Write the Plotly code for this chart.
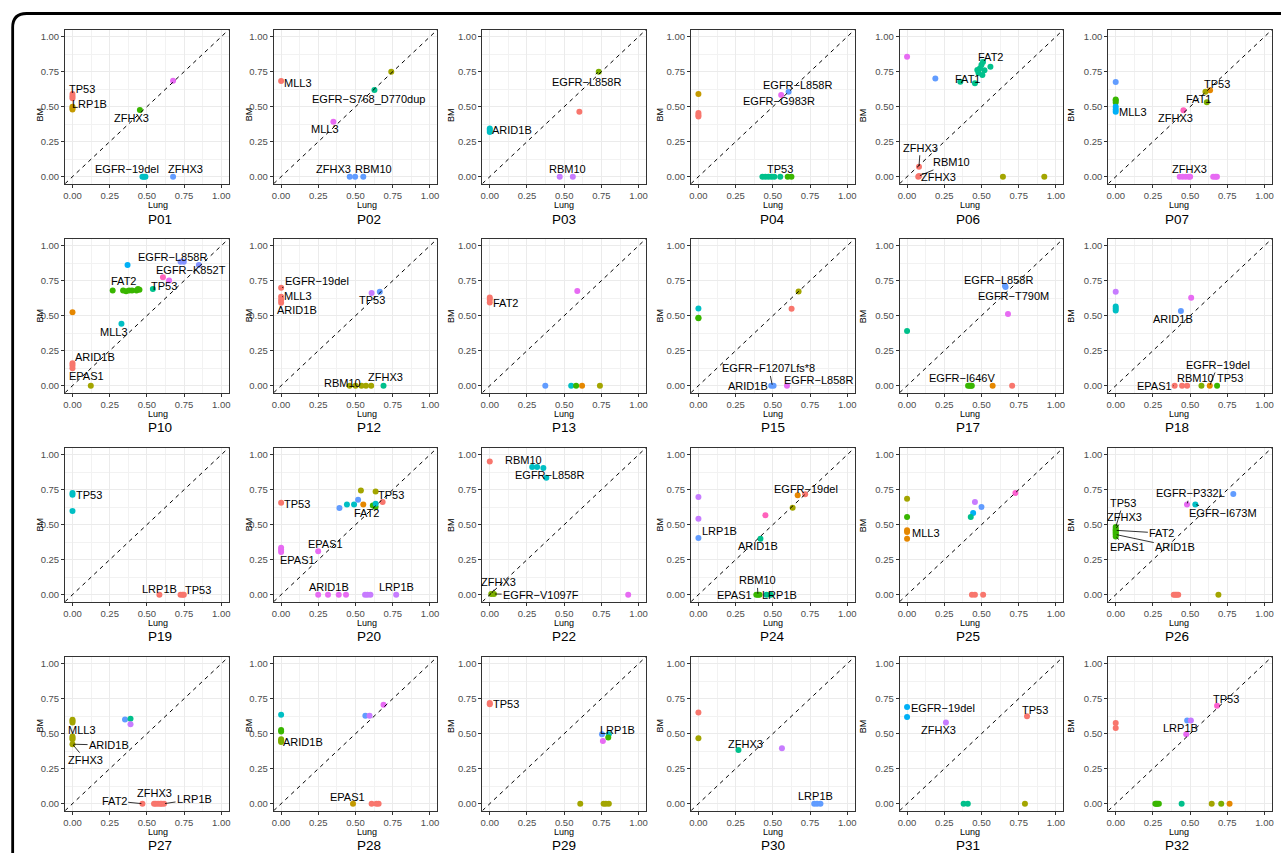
import plotly.graph_objects as go

W, H = 1281, 853
FONT = "Liberation Sans, Arial, Helvetica, sans-serif"

PALETTE = {
    "R": "#F8766D", "O": "#E58700", "G": "#C49A00", "L": "#A3A500",
    "Y": "#7CAE00", "N": "#39B600", "E": "#00BA38", "M": "#00C08B",
    "T": "#00BFC4", "S": "#00B0F6", "B": "#619CFF", "V": "#8494FF",
    "P": "#C77CFF", "K": "#E76BF3", "I": "#FF62BC", "D": "#FD61D1",
}

PANELS = ["P01", "P02", "P03", "P04", "P06", "P07",
          "P10", "P12", "P13", "P15", "P17", "P18",
          "P19", "P20", "P22", "P24", "P25", "P26",
          "P27", "P28", "P29", "P30", "P31", "P32"]

TICK_VALS = [0, 0.25, 0.5, 0.75, 1.0]
TICK_TEXT = ["0.00", "0.25", "0.50", "0.75", "1.00"]
X_TITLE = "Lung"
Y_TITLE = "BM"

# ---- data: Lung VAF, BM VAF, colour code, labels (text, point x, point y, label x, label y, segment)
P01_lung = [0, 0, 0, 0, 0, 0, 0.453, 0.676, 0.47, 0.48, 0.49, 0.676]
P01_bm = [0.59, 0.575, 0.56, 0.50, 0.49, 0.48, 0.476, 0.686, 0, 0, 0, 0]
P01_col = "RRRGGGNKTTTB"
P01_lab = [("TP53", 0, 0.575, 0.067, 0.63, False), ("LRP1B", 0, 0.50, 0.112, 0.519, False),
           ("ZFHX3", 0.453, 0.476, 0.397, 0.417, False), ("EGFR−19del", 0.48, 0, 0.364, 0.052, False),
           ("ZFHX3", 0.676, 0, 0.761, 0.052, False)]

P02_lung = [0, 0.74, 0.627, 0.351, 0.461, 0.497, 0.552]
P02_bm = [0.683, 0.75, 0.619, 0.393, 0, 0, 0]
P02_col = "RLMKBBB"
P02_lab = [("MLL3", 0, 0.683, 0.116, 0.667, False), ("EGFR−S768_D770dup", 0.627, 0.619, 0.586, 0.555, False),
           ("MLL3", 0.351, 0.393, 0.296, 0.338, False), ("ZFHX3", 0.461, 0, 0.35, 0.052, False),
           ("RBM10", 0.552, 0, 0.62, 0.052, False)]

P03_lung = [0, 0, 0, 0.732, 0.602, 0.47, 0.558]
P03_bm = [0.345, 0.333, 0.32, 0.75, 0.464, 0, 0]
P03_col = "TTTYRPP"
P03_lab = [("ARID1B", 0, 0.333, 0.152, 0.333, False), ("EGFR−L858R", 0.732, 0.75, 0.65, 0.679, True),
           ("RBM10", 0.51, 0, 0.52, 0.052, False)]

P04_lung = [0, 0, 0, 0, 0.556, 0.606, 0.43, 0.45, 0.47, 0.49, 0.51, 0.55, 0.6, 0.625]
P04_bm = [0.59, 0.455, 0.44, 0.43, 0.583, 0.607, 0, 0, 0, 0, 0, 0, 0, 0]
P04_col = "GRRRKBMMMMMMNN"
P04_lab = [("EGFR−L858R", 0.606, 0.607, 0.667, 0.655, True), ("EGFR−G983R", 0.556, 0.583, 0.544, 0.543, True),
           ("TP53", 0.49, 0, 0.55, 0.055, False)]

P06_lung = [0, 0.19, 0.358, 0.456, 0.472, 0.49, 0.5, 0.51, 0.52, 0.56, 0.48, 0.506, 0.08, 0.08, 0.075, 0.644, 0.922]
P06_bm = [0.857, 0.702, 0.679, 0.667, 0.762, 0.774, 0.8, 0.82, 0.76, 0.786, 0.74, 0.726, 0.071, 0.005, 0.0, 0, 0]
P06_col = "KBMMMMMMMMMMRRRLL"
P06_lab = [("FAT2", 0.51, 0.82, 0.561, 0.857, False), ("FAT1", 0.358, 0.679, 0.408, 0.695, False),
           ("ZFHX3", 0.08, 0.071, 0.089, 0.207, True), ("RBM10", 0.08, 0.005, 0.297, 0.102, True),
           ("ZFHX3", 0.075, 0.0, 0.214, 0.0, False)]

P07_lung = [0, 0, 0, 0, 0, 0, 0, 0.634, 0.603, 0.612, 0.455, 0.43, 0.45, 0.47, 0.49, 0.5, 0.655, 0.67, 0.68]
P07_bm = [0.676, 0.552, 0.545, 0.53, 0.5, 0.48, 0.464, 0.617, 0.607, 0.531, 0.474, 0, 0, 0, 0, 0, 0, 0, 0]
P07_col = "BNNNSSSOLYIKKKKKKKK"
P07_lab = [("MLL3", 0, 0.48, 0.114, 0.46, False), ("TP53", 0.603, 0.607, 0.681, 0.664, True),
           ("FAT1", 0.612, 0.531, 0.554, 0.555, False), ("ZFHX3", 0.455, 0.474, 0.404, 0.417, False),
           ("ZFHX3", 0.47, 0, 0.498, 0.052, False)]

P10_lung = [0.37, 0.726, 0.748, 0.849, 0.608, 0.649, 0.27, 0.34, 0.36, 0.38, 0.40, 0.43, 0.44, 0.45, 0.54, 0, 0.329, 0, 0, 0, 0.123]
P10_bm = [0.862, 0.886, 0.886, 0.862, 0.774, 0.752, 0.68, 0.68, 0.675, 0.68, 0.68, 0.68, 0.69, 0.685, 0.69, 0.524, 0.443, 0.16, 0.145, 0.125, 0]
P10_col = "SVVVIKNNNNNNNNMOTRRRL"
P10_lab = [("EGFR−L858R", 0.737, 0.886, 0.671, 0.921, True), ("EGFR−K852T", 0.849, 0.862, 0.795, 0.826, True),
           ("FAT2", 0.36, 0.675, 0.342, 0.745, False), ("TP53", 0.54, 0.69, 0.616, 0.712, False),
           ("MLL3", 0.329, 0.443, 0.279, 0.386, False), ("ARID1B", 0, 0.16, 0.151, 0.207, True),
           ("EPAS1", 0, 0.125, 0.096, 0.071, True)]

P12_lung = [0, 0, 0, 0, 0.608, 0.663, 0.46, 0.50, 0.54, 0.57, 0.605, 0.688]
P12_bm = [0.70, 0.636, 0.612, 0.593, 0.662, 0.671, 0, 0, 0, 0, 0, 0]
P12_col = "RRRRPBLLLLLM"
P12_lab = [("EGFR−19del", 0, 0.70, 0.24, 0.748, True), ("MLL3", 0, 0.636, 0.116, 0.64, True),
           ("ARID1B", 0, 0.593, 0.11, 0.538, False), ("TP53", 0.608, 0.662, 0.613, 0.612, False),
           ("RBM10", 0.5, 0, 0.41, 0.02, False), ("ZFHX3", 0.688, 0, 0.70, 0.062, False)]

P13_lung = [0, 0, 0, 0.588, 0.373, 0.547, 0.58, 0.62, 0.74]
P13_bm = [0.63, 0.615, 0.595, 0.676, 0, 0, 0, 0, 0]
P13_col = "RRRKBTNOL"
P13_lab = [("FAT2", 0, 0.61, 0.105, 0.588, False)]

P15_lung = [0, 0, 0, 0.673, 0.626, 0.489, 0.505, 0.595]
P15_bm = [0.552, 0.481, 0.486, 0.673, 0.55, 0, 0, 0]
P15_col = "TNNLRBBK"
P15_lab = [("EGFR−F1207Lfs*8", 0.497, 0, 0.473, 0.123, True), ("ARID1B", 0.489, 0, 0.331, 0.0, False),
           ("EGFR−L858R", 0.595, 0, 0.804, 0.04, False)]

P17_lung = [0, 0.41, 0.42, 0.43, 0.435, 0.575, 0.706, 0.658, 0.662, 0.678]
P17_bm = [0.39, 0, 0, 0, 0, 0, 0, 0.714, 0.705, 0.512]
P17_col = "MNNNNORBBK"
P17_lab = [("EGFR−I646V", 0.42, 0, 0.367, 0.052, False), ("EGFR−L858R", 0.658, 0.714, 0.611, 0.755, False),
           ("EGFR−T790M", 0.662, 0.705, 0.714, 0.64, False)]

P18_lung = [0, 0, 0, 0, 0.507, 0.438, 0.396, 0.446, 0.48, 0.576, 0.632, 0.681]
P18_bm = [0.671, 0.566, 0.552, 0.538, 0.629, 0.533, 0, 0, 0, 0, 0, 0]
P18_col = "PTTTKBRRRYON"
P18_lab = [("ARID1B", 0.438, 0.533, 0.388, 0.474, False), ("EGFR−19del", 0.632, 0, 0.687, 0.148, True),
           ("RBM10", 0.576, 0, 0.535, 0.052, False), ("TP53", 0.681, 0, 0.765, 0.052, False),
           ("EPAS1", 0.396, 0, 0.258, 0.0, True)]

P19_lung = [0, 0, 0, 0.584, 0.726, 0.74, 0.748]
P19_bm = [0.726, 0.714, 0.598, 0, 0, 0, 0]
P19_col = "TTTRRRR"
P19_lab = [("TP53", 0, 0.72, 0.11, 0.71, False), ("LRP1B", 0.584, 0, 0.584, 0.043, False),
           ("TP53", 0.74, 0, 0.844, 0.036, False)]

P20_lung = [0, 0, 0, 0, 0.249, 0.392, 0.442, 0.49, 0.517, 0.536, 0.552, 0.635, 0.616, 0.635, 0.635, 0.682,
            0.249, 0.315, 0.387, 0.436, 0.564, 0.58, 0.6, 0.773]
P20_bm = [0.657, 0.336, 0.321, 0.305, 0.31, 0.619, 0.645, 0.645, 0.679, 0.745, 0.645, 0.738, 0.638, 0.626, 0.65, 0.662,
          0, 0, 0, 0, 0, 0, 0, 0]
P20_col = "RKKKKBTTBLOLNNTRKKKKPPPP"
P20_lab = [("TP53", 0, 0.657, 0.11, 0.65, False), ("EPAS1", 0, 0.305, 0.11, 0.245, False),
           ("EPAS1", 0.249, 0.31, 0.301, 0.36, False), ("TP53", 0.682, 0.662, 0.738, 0.71, False),
           ("FAT2", 0.616, 0.638, 0.572, 0.583, True), ("ARID1B", 0.315, 0, 0.323, 0.055, False),
           ("LRP1B", 0.773, 0, 0.773, 0.055, False)]

P22_lung = [0, 0.285, 0.318, 0.36, 0.38, 0.01, 0.028, 0.93]
P22_bm = [0.952, 0.912, 0.912, 0.905, 0.836, 0.005, 0.005, 0]
P22_col = "RTTTTYYK"
P22_lab = [("RBM10", 0.3, 0.912, 0.227, 0.96, False), ("EGFR−L858R", 0.38, 0.836, 0.4, 0.852, False),
           ("ZFHX3", 0.01, 0.005, 0.06, 0.09, True), ("EGFR−V1097F", 0.028, 0.005, 0.345, 0.0, True)]

P24_lung = [0, 0, 0, 0.667, 0.717, 0.633, 0.45, 0.417, 0.389, 0.40, 0.41, 0.458, 0.486]
P24_bm = [0.698, 0.543, 0.405, 0.71, 0.717, 0.621, 0.567, 0.4, 0, 0, 0, 0, 0]
P24_col = "PPBORLIMNNNMM"
P24_lab = [("LRP1B", 0, 0.405, 0.139, 0.452, False), ("EGFR−19del", 0.717, 0.717, 0.722, 0.757, False),
           ("ARID1B", 0.417, 0.4, 0.403, 0.345, False), ("RBM10", 0.4, 0, 0.394, 0.102, True),
           ("EPAS1", 0.389, 0, 0.244, 0.0, False), ("LRP1B", 0.458, 0, 0.547, 0.0, False)]

P25_lung = [0, 0, 0, 0, 0, 0.456, 0.444, 0.428, 0.5, 0.728, 0.436, 0.456, 0.511]
P25_bm = [0.686, 0.555, 0.46, 0.448, 0.4, 0.662, 0.583, 0.555, 0.626, 0.726, 0, 0, 0]
P25_col = "LNOOOPSMBDRRR"
P25_lab = [("MLL3", 0, 0.448, 0.13, 0.44, False)]

P26_lung = [0, 0, 0, 0, 0, 0, 0, 0.479, 0.535, 0.79, 0.39, 0.40, 0.41, 0.42, 0.69]
P26_bm = [0.483, 0.47, 0.46, 0.45, 0.44, 0.43, 0.415, 0.645, 0.645, 0.72, 0, 0, 0, 0, 0]
P26_col = "NNNNNNNKTBRRRRL"
P26_lab = [("EGFR−P332L", 0.479, 0.645, 0.5, 0.725, True), ("EGFR−I673M", 0.535, 0.645, 0.72, 0.583, True),
           ("TP53", 0, 0.483, 0.05, 0.655, True), ("ZFHX3", 0, 0.47, 0.058, 0.555, True),
           ("FAT2", 0, 0.46, 0.31, 0.44, True), ("EPAS1", 0, 0.415, 0.078, 0.34, True),
           ("ARID1B", 0, 0.43, 0.40, 0.34, True)]

P27_lung = [0, 0, 0, 0, 0, 0, 0, 0.353, 0.39, 0.39, 0.47, 0.548, 0.56, 0.575, 0.59, 0.6, 0.615]
P27_bm = [0.60, 0.59, 0.58, 0.48, 0.47, 0.46, 0.425, 0.601, 0.606, 0.568, 0, 0, 0, 0, 0, 0, 0]
P27_col = "LLLLLLLBMPRRRRRRR"
P27_lab = [("MLL3", 0, 0.48, 0.067, 0.53, False), ("ARID1B", 0, 0.425, 0.246, 0.418, True),
           ("ZFHX3", 0, 0.425, 0.09, 0.311, True), ("FAT2", 0.47, 0, 0.28, 0.02, True),
           ("ZFHX3", 0.56, 0, 0.548, 0.074, False), ("LRP1B", 0.615, 0, 0.82, 0.033, True)]

P28_lung = [0, 0, 0, 0, 0, 0, 0.566, 0.594, 0.688, 0.483, 0.608, 0.64, 0.655]
P28_bm = [0.635, 0.527, 0.515, 0.46, 0.45, 0.44, 0.628, 0.628, 0.707, 0, 0, 0, 0]
P28_col = "TNNYYYBPKGRRR"
P28_lab = [("ARID1B", 0, 0.45, 0.144, 0.439, False), ("EPAS1", 0.483, 0, 0.447, 0.048, False)]

P29_lung = [0, 0, 0.754, 0.8, 0.796, 0.76, 0.608, 0.765, 0.78, 0.8]
P29_bm = [0.72, 0.71, 0.496, 0.496, 0.472, 0.448, 0, 0, 0, 0]
P29_col = "RRBTNKLLLL"
P29_lab = [("TP53", 0, 0.715, 0.11, 0.712, False), ("LRP1B", 0.754, 0.496, 0.856, 0.527, False)]

P30_lung = [0, 0, 0.269, 0.561, 0.778, 0.797, 0.82]
P30_bm = [0.652, 0.468, 0.384, 0.396, 0, 0, 0]
P30_col = "RLMPBBB"
P30_lab = [("ZFHX3", 0.269, 0.384, 0.319, 0.424, False), ("LRP1B", 0.797, 0, 0.786, 0.053, False)]

P31_lung = [0, 0, 0.261, 0.806, 0.38, 0.408, 0.792]
P31_bm = [0.69, 0.619, 0.58, 0.624, 0, 0, 0]
P31_col = "SSPRMML"
P31_lab = [("EGFR−19del", 0, 0.69, 0.242, 0.683, False), ("ZFHX3", 0.261, 0.58, 0.208, 0.523, False),
           ("TP53", 0.806, 0.624, 0.858, 0.671, False)]

P32_lung = [0, 0, 0.48, 0.505, 0.474, 0.681, 0.266, 0.273, 0.28, 0.29, 0.443, 0.645, 0.709, 0.765]
P32_bm = [0.576, 0.54, 0.595, 0.595, 0.496, 0.7, 0, 0, 0, 0, 0, 0, 0, 0]
P32_col = "RRBPKDNNNNMLYO"
P32_lab = [("TP53", 0.681, 0.7, 0.742, 0.748, False), ("LRP1B", 0.474, 0.496, 0.432, 0.54, False)]

DATA = {name: (globals()[name + "_lung"], globals()[name + "_bm"],
               globals()[name + "_col"], globals()[name + "_lab"]) for name in PANELS}

# ---- layout geometry (pixels)
COL_PITCH, ROW_PITCH = 209.3, 209.0
X_ZERO, X_ONE = 70.7, 220.0      # pixel x of Lung=0 / Lung=1 in first column
Y_ONE, Y_ZERO = 36.7, 176.7      # pixel y of BM=1 / BM=0 in first row
LUNG_Y0, LUNG_PITCH = 205.0, 209.0
TITLE_Y0, TITLE_PITCH = 219.0, 208.7
RANGE = [-0.05, 1.05]


def px(x):
    return x / W


def py(y):
    return 1 - y / H


fig = go.Figure()
annotations = []
shapes = []

for i, name in enumerate(PANELS):
    r, c = divmod(i, 6)
    k = i + 1
    xs = "" if k == 1 else str(k)
    xref, yref = "x" + xs, "y" + xs
    lung, bm, cols, labs = DATA[name]

    ux = X_ONE - X_ZERO
    uy = Y_ZERO - Y_ONE
    xz = X_ZERO + c * COL_PITCH
    yz = Y_ZERO + r * ROW_PITCH
    left = xz + RANGE[0] * ux
    right = xz + RANGE[1] * ux
    top = yz - RANGE[1] * uy
    bottom = yz - RANGE[0] * uy

    axis_common = dict(
        range=RANGE, tickmode="array", tickvals=TICK_VALS, ticktext=TICK_TEXT,
        showgrid=True, gridcolor="#EBEBEB", gridwidth=1,
        minor=dict(tickmode="array", tickvals=[0.125, 0.375, 0.625, 0.875],
                   showgrid=True, gridcolor="#F2F2F2", gridwidth=0.6, ticks=""),
        zeroline=False, showline=True, linecolor="#333333", linewidth=1, mirror=True,
        ticks="outside", ticklen=3, tickwidth=1, tickcolor="#333333",
        tickfont=dict(family=FONT, size=9.5, color="#4D4D4D"), fixedrange=True,
    )
    fig.layout["xaxis" + xs] = dict(axis_common, domain=[px(left), px(right)], anchor=yref)
    fig.layout["yaxis" + xs] = dict(axis_common, domain=[py(bottom), py(top)], anchor=xref)

    fig.add_trace(go.Scatter(
        x=lung, y=bm, mode="markers", xaxis=xref, yaxis=yref,
        marker=dict(size=6, color=[PALETTE[ch] for ch in cols], line=dict(width=0)),
        hoverinfo="skip", showlegend=False, cliponaxis=False,
    ))

    shapes.append(dict(type="line", xref=xref, yref=yref, x0=RANGE[0], y0=RANGE[0],
                       x1=RANGE[1], y1=RANGE[1],
                       line=dict(color="black", width=1, dash="4px,4px"), layer="above"))

    for (txt, x0, y0, tx, ty, seg) in labs:
        if seg:
            annotations.append(dict(text=txt, x=x0, y=y0, ax=tx, ay=ty, xref=xref, yref=yref,
                                    axref=xref, ayref=yref, showarrow=True, arrowhead=0,
                                    arrowwidth=0.8, arrowcolor="black", standoff=1,
                                    font=dict(family=FONT, size=11, color="black")))
        else:
            annotations.append(dict(text=txt, x=tx, y=ty, xref=xref, yref=yref, showarrow=False,
                                    font=dict(family=FONT, size=11, color="black")))

    annotations.append(dict(text=X_TITLE, x=px(xz + 0.5 * ux), y=py(LUNG_Y0 + r * LUNG_PITCH),
                            xref="paper", yref="paper", showarrow=False,
                            yanchor="middle", borderpad=0,
                            font=dict(family=FONT, size=9, color="black")))
    annotations.append(dict(text=Y_TITLE, x=px(32 + c * COL_PITCH), y=py(yz - 0.5 * uy),
                            xref="paper", yref="paper", showarrow=False, textangle=-90,
                            borderpad=0,
                            font=dict(family=FONT, size=9, color="black")))
    annotations.append(dict(text=name, x=px(xz + 0.5 * ux), y=py(TITLE_Y0 + r * TITLE_PITCH),
                            xref="paper", yref="paper", showarrow=False,
                            yanchor="middle", borderpad=0,
                            font=dict(family=FONT, size=13.5, color="black")))

# outer rounded frame (top-left corner visible)
fx, fy, rad = 10.7, 13.5, 14
frame_path = (f"M {px(fx)},{py(H + 10)} L {px(fx)},{py(fy + rad)} "
              f"Q {px(fx)},{py(fy)} {px(fx + rad)},{py(fy)} L {px(W + 10)},{py(fy)}")
shapes.append(dict(type="path", xref="paper", yref="paper", path=frame_path,
                   line=dict(color="black", width=2.8), layer="above"))

fig.update_layout(
    width=W, height=H, margin=dict(l=0, r=0, t=0, b=0),
    paper_bgcolor="white", plot_bgcolor="white",
    annotations=annotations, shapes=shapes, showlegend=False,
    font=dict(family=FONT),
)

fig.write_html("out.html", config={"displayModeBar": False},
               post_script="document.body.style.margin='0px';")
